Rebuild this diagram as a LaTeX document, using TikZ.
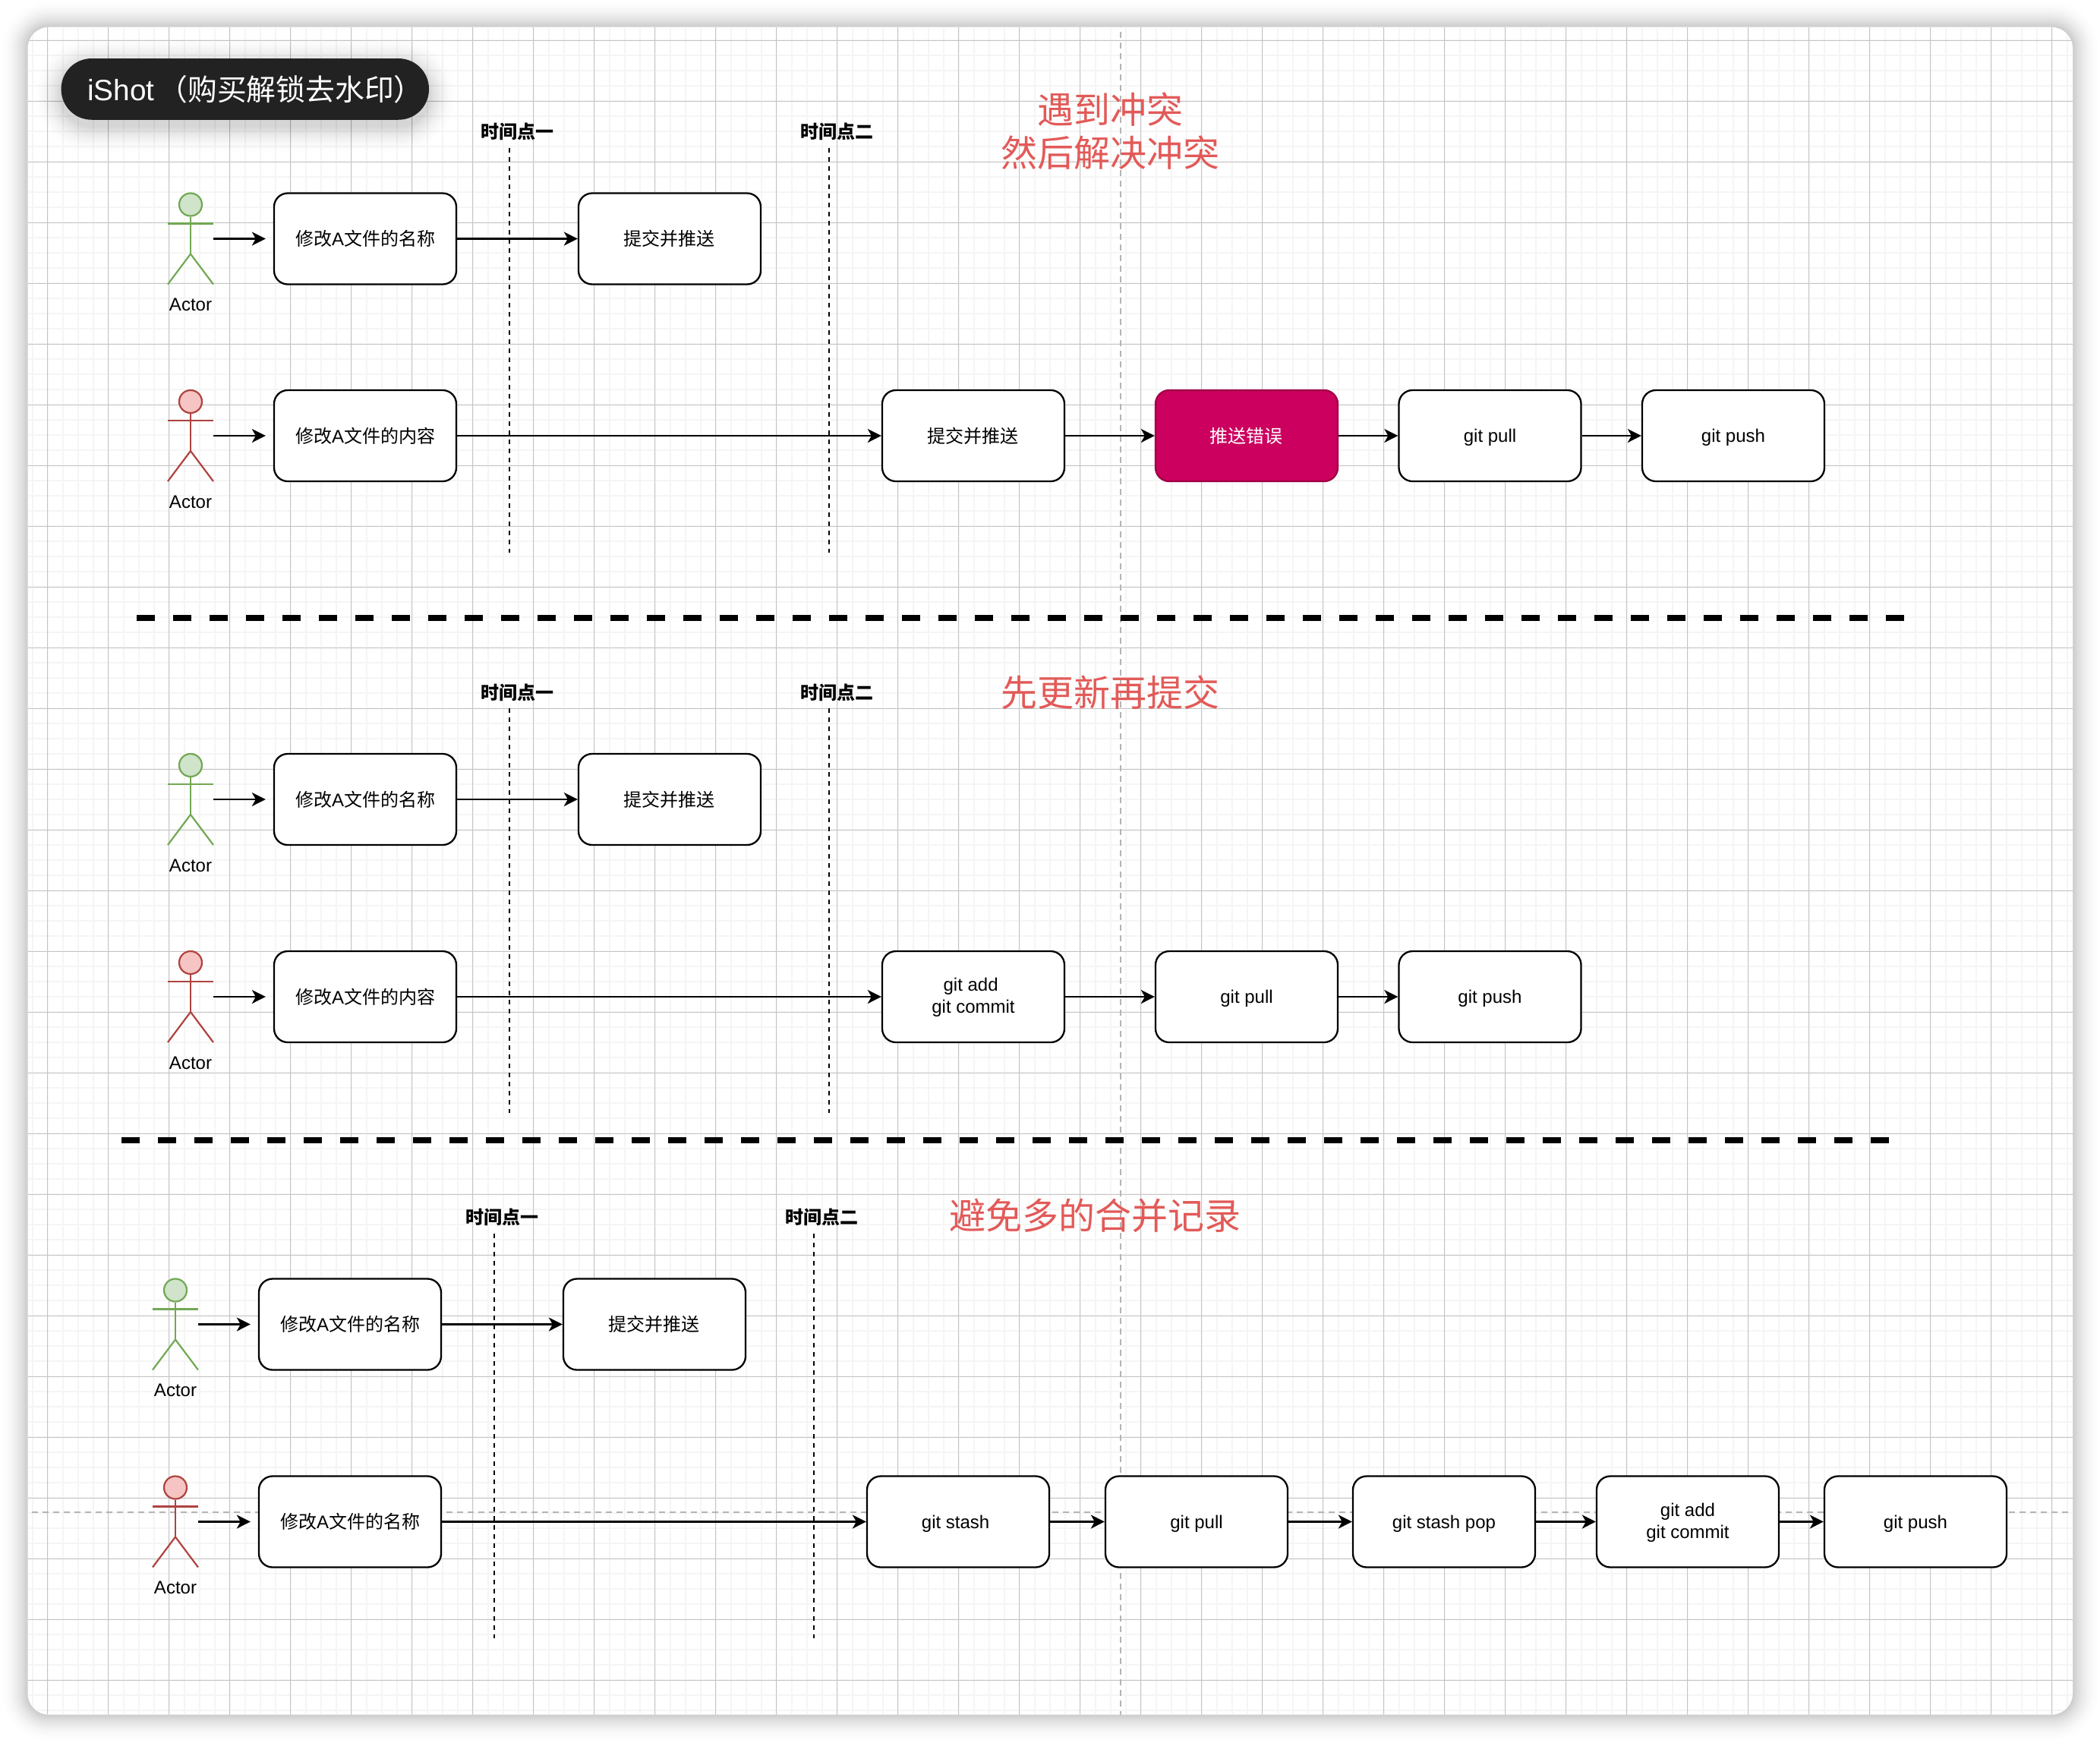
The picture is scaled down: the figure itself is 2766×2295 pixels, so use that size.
\documentclass[tikz,border=0pt]{standalone}
\usepackage{fontspec}
\setmainfont{Liberation Sans}
\newfontfamily\cjk{Noto Sans CJK SC}
\usetikzlibrary{shapes,arrows.meta}

\definecolor{greenline}{HTML}{72A854}
\definecolor{greenfill}{HTML}{CFE4CA}
\definecolor{redline}{HTML}{AE4340}
\definecolor{redfill}{HTML}{F6C4C2}
\definecolor{errfill}{HTML}{CC005E}
\definecolor{errline}{HTML}{A00045}
\definecolor{titlered}{HTML}{E25A58}
\definecolor{gridmajor}{HTML}{C4C4C4}
\definecolor{gridminor}{HTML}{F5F5F5}
\definecolor{guideline}{HTML}{B4B4B4}

\newcommand{\namelabel}{{\cjk 修改}A{\cjk 文件的名称}}
\newcommand{\bodylabel}{{\cjk 修改}A{\cjk 文件的内容}}
\newcommand{\pushlabel}{{\cjk 提交并推送}\kern2pt}
\newcommand{\gitline}[1]{\rule{0pt}{22pt}#1}
\newcommand{\gittwo}[1]{\rule{0pt}{19.5pt}#1\\git commit}

% actor: name, x, row y, line colour, fill colour
\newcommand{\stickman}[5]{
	\begin{scope}[shift={(#2,#3)}]
		\node[head, draw=#4, fill=#5] (#1h) at (0,-45) {};
		\coordinate (#1r) at (30,0);
		\coordinate (#1b) at (0,20);
		\coordinate (#1p) at (-30,-20);
		\coordinate (#1q) at (30,-20);
		\coordinate (#1s) at (-30,60);
		\coordinate (#1t) at (30,60);
		\draw[limb, draw=#4] (#1h) -- (#1b);
		\draw[limb, draw=#4] (#1p) -- (#1q);
		\draw[limb, draw=#4] (#1s) -- (#1b) -- (#1t);
		\node[small] (#1l) at (0,87) {Actor};
	\end{scope}
}

% time mark: name, x, row y, text
\newcommand{\timemark}[4]{
	\node[small, font=\fontsize{24}{29}\selectfont\cjk\bfseries] (#1) at (#2+10.6,#3-141) {#4};
	\coordinate (#1a) at (#2,#3-120);
	\coordinate (#1b) at (#2,#3+413);
	\draw[timeline] (#1a) -- (#1b);
}

\begin{document}
\begin{tikzpicture}[
			x = 1pt,
			y = -1pt,
			> = {Stealth[length=18pt,width=18pt,inset=5pt]},
			line width = 2.3pt]
			\tikzstyle{box}=[
			draw = black,
			line width = 2.3pt,
			fill = white,
			rectangle,
			rounded corners = 18pt,
			inner sep = 0pt,
			align = center,
			font = \fontsize{24}{28.8}\selectfont,
			minimum width = 240pt,
			minimum height = 120pt]
			\tikzstyle{errbox}=[box, draw = errline, fill = errfill, text = white]
			\tikzstyle{head}=[circle, line width = 2.2pt, minimum size = 30pt, inner sep = 0pt]
			\tikzstyle{limb}=[line width = 2.2pt]
			\tikzstyle{small}=[inner sep = 0pt, font = \fontsize{24}{29}\selectfont]
			\tikzstyle{timeline}=[line width = 2pt, dash pattern = on 6pt off 6pt]
			\tikzstyle{sepline}=[line width = 8pt, dash pattern = on 24pt off 24pt]
			\tikzstyle{title}=[inner sep = 0pt, align = center, text = titlered, font = \fontsize{48}{57.6}\selectfont\cjk]
			\tikzstyle{gap}=[shorten > = 10pt]

			\useasboundingbox (0,0) rectangle (2766,2295);
			\fill[white] (0,0) rectangle (2766,2295);

			% sheet shadow
			\foreach \e in {36,34,...,2} {
				\pgfmathsetmacro{\o}{0.021*(1-\e/38)}
				\fill[black, opacity=\o, rounded corners=28pt+\e pt] (36.5-\e,35.7-\e) rectangle (2730+\e,2258.7+\e);
			}

			\begin{scope}
				\clip[rounded corners=28pt] (36.5,35.7) rectangle (2730,2258.7);
				\fill[white] (0,0) rectangle (2766,2295);
				\foreach \g in {0,...,137} {
					\draw[gridminor, line width=2pt] (22.7+20*\g,0) -- (22.7+20*\g,2295);
				}
				\foreach \g in {0,...,114} {
					\draw[gridminor, line width=2pt] (0,13.3+20*\g) -- (2766,13.3+20*\g);
				}
				\foreach \g in {0,...,34} {
					\draw[gridmajor, line width=1pt] (62.7+80*\g,0) -- (62.7+80*\g,2295);
				}
				\foreach \g in {0,...,28} {
					\draw[gridmajor, line width=1pt] (0,53.3+80*\g) -- (2766,53.3+80*\g);
				}
				\draw[guideline, line width=2pt, dash pattern=on 8pt off 6pt] (1476,0) -- (1476,2295);
				\draw[guideline, line width=2pt, dash pattern=on 8pt off 6pt] (0,1992) -- (2766,1992);
			\end{scope}

			% first part
			\node[title] (ta) at (1462,172.5) {遇到冲突\\然后解决冲突};
			\timemark{t1}{671}{314.5}{时间点一}
			\timemark{t2}{1092}{314.5}{时间点二}
			\stickman{p}{251}{314.5}{greenline}{greenfill}
			\stickman{q}{251}{574}{redline}{redfill}

			\node[box] (a) at (481,314.5) {\namelabel};
			\node[box] (b) [right of=a, node distance=401pt] {\pushlabel};
			\node[box] (c) at (481,574) {\bodylabel};
			\node[box] (d) [right of=c, node distance=801pt] {\pushlabel};
			\node[errbox] (e) [right of=d, node distance=360pt] {{\cjk 推送错误}\kern2pt};
			\node[box] (f) [right of=e, node distance=320.5pt] {\gitline{git pull}};
			\node[box] (g) [right of=f, node distance=320.5pt] {\gitline{git push}};

			\path[->, gap] (pr) edge (a);
			\path[->, gap] (qr) edge (c);
			\path[->] (a) edge (b);
			\path[->] (c) edge (d);
			\path[->] (d) edge (e);
			\path[->] (e) edge (f);
			\path[->] (f) edge (g);

			\coordinate (s1) at (180,813.5);
			\coordinate (s2) at (2510,813.5);
			\draw[sepline] (s1) -- (s2);

			% second part
			\node[title] (tb) at (1462,912) {先更新再提交};
			\timemark{t3}{671}{1053}{时间点一}
			\timemark{t4}{1092}{1053}{时间点二}
			\stickman{r}{251}{1053}{greenline}{greenfill}
			\stickman{s}{251}{1313}{redline}{redfill}

			\node[box] (h) at (481,1053) {\namelabel};
			\node[box] (i) [right of=h, node distance=401pt] {\pushlabel};
			\node[box] (j) at (481,1313) {\bodylabel};
			\node[box] (k) [right of=j, node distance=801pt] {\gittwo{git add\kern6.7pt}};
			\node[box] (l) [right of=k, node distance=360pt] {\gitline{git pull}};
			\node[box] (m) [right of=l, node distance=320.5pt] {\gitline{git push}};

			\path[->, gap] (rr) edge (h);
			\path[->, gap] (sr) edge (j);
			\path[->] (h) edge (i);
			\path[->] (j) edge (k);
			\path[->] (k) edge (l);
			\path[->] (l) edge (m);

			\coordinate (s3) at (160,1502);
			\coordinate (s4) at (2490,1502);
			\draw[sepline] (s3) -- (s4);

			% third part
			\node[title] (tc) at (1442,1601.5) {避免多的合并记录};
			\timemark{t5}{651}{1744.5}{时间点一}
			\timemark{t6}{1072}{1744.5}{时间点二}
			\stickman{u}{231}{1744.5}{greenline}{greenfill}
			\stickman{v}{231}{2004.5}{redline}{redfill}

			\node[box] (n) at (461,1744.5) {\namelabel};
			\node[box] (o) [right of=n, node distance=401pt] {\pushlabel};
			\node[box] (w) at (461,2004.5) {\namelabel};
			\node[box] (x) [right of=w, node distance=801pt] {\gitline{git stash\kern6.7pt}};
			\node[box] (y) [right of=x, node distance=314pt] {\gitline{git pull}};
			\node[box] (z) [right of=y, node distance=326pt] {\gitline{git stash pop}};
			\node[box] (aa) [right of=z, node distance=321pt] {\gittwo{git add}};
			\node[box] (ab) [right of=aa, node distance=300pt] {\gitline{git push}};

			\path[->, gap] (ur) edge (n);
			\path[->, gap] (vr) edge (w);
			\path[->] (n) edge (o);
			\path[->] (w) edge (x);
			\path[->] (x) edge (y);
			\path[->] (y) edge (z);
			\path[->] (z) edge (aa);
			\path[->] (aa) edge (ab);

			% watermark
			\foreach \e in {38,36,...,2} {
				\pgfmathsetmacro{\o}{0.017*(1-\e/40)}
				\fill[black, opacity=\o, rounded corners=40pt+\e pt] (80.6-\e,85-\e) rectangle (565+\e,165.7+\e);
			}
			\node[fill=black!88, fill opacity=0.98, rectangle, rounded corners=40pt, minimum width=484.4pt, minimum height=80.7pt, inner sep=0pt] (pill) at (322.8,117.4) {};
			\node[anchor=west, inner sep=0pt, text=white, font=\fontsize{38.8}{46}\selectfont] (mark) at (114,117.4) {iShot\kern5pt{\cjk （购买解锁去水印）}};
		\end{tikzpicture}
\end{document}
